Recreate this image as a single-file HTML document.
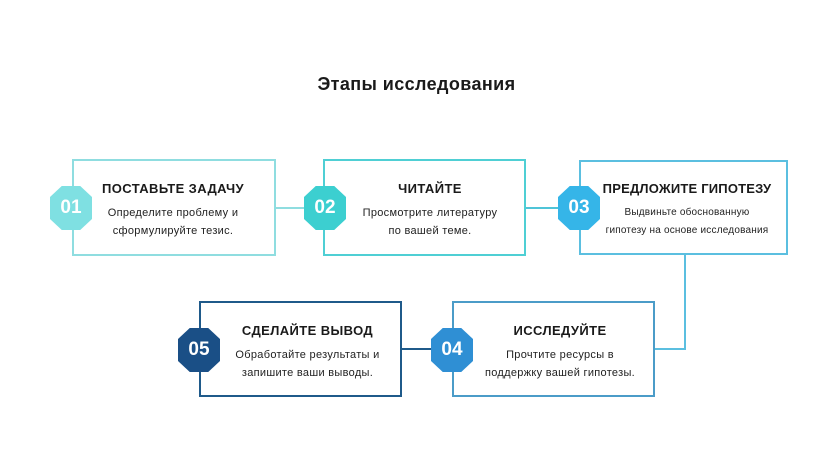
<!DOCTYPE html>
<html><head><meta charset="utf-8"><style>
body{margin:0;width:833px;height:457px;background:#fff;position:relative;overflow:hidden;font-family:"Liberation Sans","DejaVu Sans",sans-serif;color:#222}
.t{position:absolute;left:0;width:833px;top:74px;text-align:center;font-size:18px;font-weight:bold;letter-spacing:0.4px;color:#1a1a1a}
.box{position:absolute;box-sizing:border-box;border:2px solid;background:#fff}
.h{position:absolute;text-align:center;font-weight:bold;font-size:13px;letter-spacing:0.4px;color:#1a1a1a;white-space:nowrap}
.p{position:absolute;text-align:center;font-size:11px;line-height:18px;letter-spacing:0.3px;color:#222;white-space:nowrap}
.b{position:absolute;width:42px;height:44px;color:#fff;font-weight:bold;font-size:19px;line-height:44px;text-align:center;clip-path:polygon(28% 0,72% 0,100% 25%,100% 75%,72% 100%,28% 100%,0 75%,0 25%)}
.l{position:absolute}
</style></head><body>
<div class="t">Этапы исследования</div>

<div class="l" style="left:274px;top:207px;width:32px;height:2px;background:#8fdde0"></div>
<div class="l" style="left:524px;top:207px;width:36px;height:2px;background:#4fc4d8"></div>
<div class="l" style="left:684px;top:253px;width:2px;height:97px;background:#5bbfe0"></div>
<div class="l" style="left:654px;top:348px;width:32px;height:2px;background:#5bbfe0"></div>
<div class="l" style="left:400px;top:348px;width:34px;height:2px;background:#1f5a8a"></div>

<div class="box" style="left:72px;top:159px;width:204px;height:97px;border-color:#8fdde0"></div>
<div class="h" style="left:88px;width:170px;top:181px">ПОСТАВЬТЕ ЗАДАЧУ</div>
<div class="p" style="left:88px;width:170px;top:204px">Определите проблему и<br>сформулируйте тезис.</div>
<div class="b" style="left:50px;top:186px;background:#7fe0e2">01</div>

<div class="box" style="left:323px;top:159px;width:203px;height:97px;border-color:#4fcfd4"></div>
<div class="h" style="left:340px;width:180px;top:181px">ЧИТАЙТЕ</div>
<div class="p" style="left:340px;width:180px;top:204px">Просмотрите литературу<br>по вашей теме.</div>
<div class="b" style="left:304px;top:186px;background:#3ccfd0">02</div>

<div class="box" style="left:579px;top:160px;width:209px;height:95px;border-color:#5bbfe0"></div>
<div class="h" style="left:596px;width:182px;top:181px;letter-spacing:0.2px">ПРЕДЛОЖИТЕ ГИПОТЕЗУ</div>
<div class="p" style="left:596px;width:182px;top:204px;font-size:10px;letter-spacing:0.2px">Выдвиньте обоснованную<br>гипотезу на основе исследования</div>
<div class="b" style="left:558px;top:186px;background:#35b5e8">03</div>

<div class="box" style="left:452px;top:301px;width:203px;height:96px;border-color:#4b9cc8"></div>
<div class="h" style="left:470px;width:180px;top:323px">ИССЛЕДУЙТЕ</div>
<div class="p" style="left:470px;width:180px;top:346px">Прочтите ресурсы в<br>поддержку вашей гипотезы.</div>
<div class="b" style="left:431px;top:328px;background:#2f8fd4">04</div>

<div class="box" style="left:199px;top:301px;width:203px;height:96px;border-color:#1f5a8a"></div>
<div class="h" style="left:220px;width:175px;top:323px">СДЕЛАЙТЕ ВЫВОД</div>
<div class="p" style="left:220px;width:175px;top:346px">Обработайте результаты и<br>запишите ваши выводы.</div>
<div class="b" style="left:178px;top:328px;background:#1a4f86">05</div>
</body></html>
